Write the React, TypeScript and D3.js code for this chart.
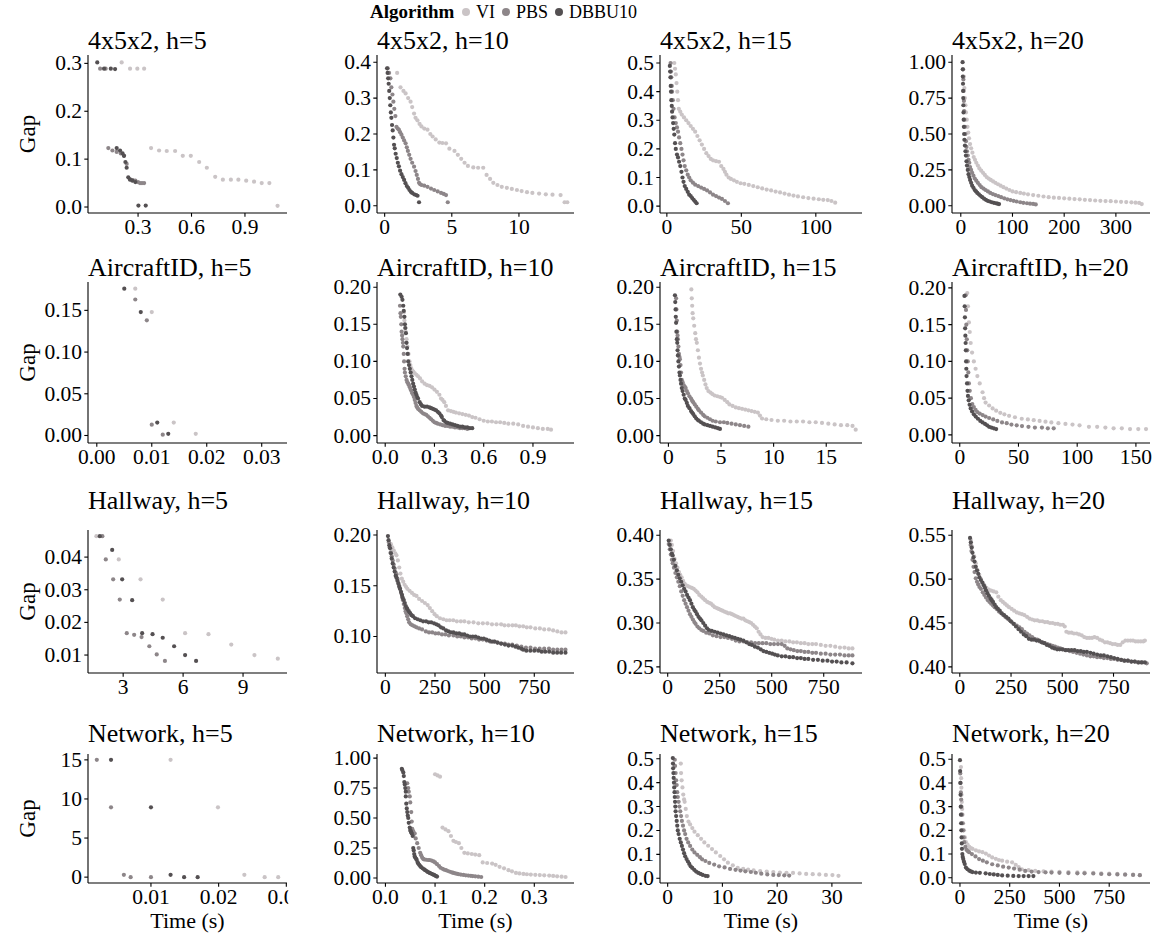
import React from "react";
import * as d3 from "d3";

const ALGORITHMS = ["VI", "PBS", "DBBU10"];
const COLORS = ["#cac4c6", "#8d8689", "#545052"];
const ENVS = ["4x5x2", "AircraftID", "Hallway", "Network"];
const HORIZONS = [5, 10, 15, 20];

type P = [number, number];

// ---------- 4x5x2 ----------
const g_h5_VI: P[] = [[.208,.302],[.255,.289],[.296,.289],[.334,.289],[.373,.123],[.418,.118],[.461,.117],[.508,.117],[.551,.107],[.596,.107],[.643,.094],[.686,.082],[.733,.063],[.776,.057],[.821,.057],[.863,.057],[.907,.055],[.951,.053],[.994,.05],[1.037,.05],[1.083,.0025]];
const g_h5_PBS: P[] = [[.087,.289],[.118,.289],[.133,.123],[.156,.118],[.18,.115],[.203,.112],[.221,.107],[.236,.09],[.255,.058],[.27,.056],[.285,.055],[.3,.052],[.311,.05],[.322,.05],[.334,.05]];
const g_h5_DB: P[] = [[.071,.302],[.109,.289],[.147,.289],[.171,.288],[.18,.123],[.199,.118],[.213,.112],[.221,.107],[.229,.094],[.236,.082],[.245,.062],[.255,.057],[.268,.055],[.285,.052],[.302,.003],[.343,.003]];

const g_h10_VI: P[] = [[.93,.37],[1.18,.33],[1.4,.32],[1.56,.313],[1.75,.3],[1.93,.29],[2.05,.275],[2.19,.257],[2.3,.245],[2.44,.238],[2.6,.228],[2.74,.221],[2.95,.215],[3.19,.212],[3.4,.2],[3.57,.193],[3.8,.185],[4.07,.176],[4.3,.175],[4.57,.174],[4.82,.159],[5.2,.153],[5.45,.142],[5.7,.131],[5.95,.12],[6.2,.111],[6.6,.107],[6.96,.106],[7.34,.106],[7.59,.086],[7.85,.075],[8.09,.064],[8.4,.058],[8.72,.053],[9.1,.05],[9.47,.047],[9.85,.044],[10.2,.041],[10.6,.038],[11,.036],[11.5,.034],[12,.032],[12.5,.031],[13.1,.03],[13.4,.01],[13.6,.01]];
const g_h10_PBS: P[] = [[.23,.383],[.33,.37],[.43,.355],[.5,.33],[.58,.31],[.65,.29],[.72,.27],[.8,.25],[.88,.22],[.97,.215],[1.06,.212],[1.15,.205],[1.25,.198],[1.35,.19],[1.45,.182],[1.56,.174],[1.65,.163],[1.73,.153],[1.83,.142],[1.93,.131],[2.05,.12],[2.19,.109],[2.3,.097],[2.39,.086],[2.48,.075],[2.56,.064],[2.65,.06],[2.75,.058],[2.95,.056],[3.19,.053],[3.45,.048],[3.69,.044],[3.95,.04],[4.2,.036],[4.4,.033],[4.57,.03],[4.7,.01]];
const g_h10_DB: P[] = [[.18,.383],[.22,.37],[.26,.355],[.3,.34],[.34,.32],[.38,.3],[.42,.28],[.46,.26],[.5,.245],[.55,.225],[.6,.21],[.65,.19],[.7,.17],[.75,.16],[.82,.145],[.9,.133],[.98,.12],[1.06,.11],[1.15,.098],[1.25,.088],[1.35,.08],[1.45,.072],[1.55,.063],[1.65,.055],[1.75,.05],[1.85,.044],[1.95,.039],[2.05,.036],[2.2,.032],[2.35,.03],[2.45,.028],[2.56,.01]];

const g_h15_VI: P[] = [[5,.5],[5.5,.48],[6,.46],[6.5,.43],[7,.4],[7.5,.37],[8,.34],[9,.33],[10,.32],[11.5,.31],[13,.3],[14.5,.29],[16,.28],[17.5,.27],[19,.26],[20.5,.245],[22,.23],[23.5,.215],[25,.2],[26.5,.185],[28,.175],[29.5,.165],[31,.16],[33,.157],[35,.155],[36.5,.14],[38,.13],[39,.12],[40,.11],[41.5,.1],[43,.095],[45,.09],[47,.085],[49.5,.08],[52,.078],[55,.074],[58,.07],[61,.066],[64,.062],[67,.058],[70,.055],[73,.051],[76,.048],[79,.044],[82,.04],[85,.037],[88,.034],[91.5,.031],[95,.028],[98.5,.026],[102,.024],[105,.022],[108,.021],[110.5,.018],[113,.012]];
const g_h15_PBS: P[] = [[2.5,.5],[2.8,.47],[3,.45],[3.3,.42],[3.5,.4],[4,.37],[4.5,.34],[5.2,.31],[6,.29],[6.8,.275],[7.5,.26],[8.2,.24],[9,.22],[9.8,.2],[10.5,.18],[11.2,.16],[12,.14],[13,.125],[14,.11],[15,.1],[16,.09],[17.5,.082],[19,.075],[21,.07],[23,.065],[25,.06],[27,.055],[29,.048],[31,.04],[33,.035],[35,.03],[37,.025],[39,.018],[41,.01]];
const g_h15_DB: P[] = [[2,.49],[2.2,.47],[2.4,.45],[2.6,.42],[2.8,.4],[3,.37],[3.3,.35],[3.5,.33],[3.8,.31],[4.2,.29],[4.6,.27],[5,.25],[5.5,.22],[6,.2],[6.8,.18],[7.5,.17],[8.2,.155],[9,.14],[9.8,.12],[10.5,.1],[11.2,.085],[12,.07],[13,.06],[14,.05],[15,.04],[16,.035],[17,.028],[18,.022],[19,.016],[20,.01]];

const g_h20_VI: P[] = [[6,.9],[7,.82],[8,.75],[9,.7],[10,.65],[11.5,.6],[13,.55],[14.5,.51],[16,.47],[18,.43],[20,.4],[22.5,.37],[25,.34],[27.5,.32],[30,.3],[33,.28],[36,.26],[39.5,.245],[43,.23],[46.5,.215],[50,.2],[54,.19],[58,.18],[62.5,.17],[67,.16],[72,.15],[77,.14],[82.5,.13],[88,.12],[94,.11],[100,.1],[107,.095],[115,.09],[122,.085],[130,.08],[140,.075],[150,.07],[160,.065],[170,.06],[180,.057],[190,.055],[200,.052],[210,.05],[220,.047],[230,.045],[240,.042],[250,.04],[260,.037],[270,.035],[280,.033],[290,.032],[300,.03],[310,.028],[320,.026],[330,.024],[338,.022],[345,.02],[350,.012]];
const g_h20_PBS: P[] = [[4.5,.95],[5,.88],[5.5,.8],[6,.73],[6.5,.66],[7,.6],[8,.55],[9,.5],[10,.45],[11,.41],[12,.38],[13.5,.35],[15,.32],[16.5,.3],[18,.27],[20,.25],[22,.23],[24.5,.21],[27,.19],[30,.175],[33,.16],[36.5,.145],[40,.13],[44,.12],[48,.11],[52.5,.1],[57,.09],[62,.082],[67,.075],[72.5,.068],[78,.06],[84,.052],[90,.045],[96,.04],[102,.035],[108,.03],[115,.025],[121,.021],[128,.018],[134,.015],[140,.013],[145,.01]];
const g_h20_DB: P[] = [[3.5,1.0],[3.8,.95],[4,.9],[4.3,.85],[4.5,.8],[4.8,.75],[5,.7],[5.3,.65],[5.6,.6],[6,.55],[6.5,.5],[7,.46],[8,.42],[9,.38],[10,.35],[11,.31],[12,.28],[13.5,.25],[15,.22],[16.5,.2],[18,.18],[20,.16],[22,.14],[24.5,.125],[27,.11],[29.5,.1],[32,.09],[35,.08],[38,.07],[41.5,.06],[45,.05],[48.5,.042],[52,.035],[56,.03],[60,.025],[64,.021],[68,.018],[71,.015],[74,.012]];

// ---------- AircraftID ----------
const a_h5_VI: P[] = [[.007,.176],[.01,.148],[.014,.0155],[.018,.002]];
const a_h5_PBS: P[] = [[.007,.163],[.0091,.138],[.01,.013],[.012,.001]];
const a_h5_DB: P[] = [[.005,.176],[.008,.148],[.011,.0155],[.013,.002]];

const a_h10_VI: P[] = [[.113,.166],[.117,.155],[.12,.145],[.124,.14],[.13,.13],[.135,.12],[.142,.11],[.148,.1],[.153,.095],[.158,.091],[.165,.088],[.172,.086],[.18,.084],[.19,.082],[.2,.08],[.212,.077],[.225,.073],[.24,.07],[.255,.068],[.27,.067],[.285,.065],[.3,.062],[.315,.059],[.33,.055],[.34,.05],[.349,.048],[.36,.045],[.37,.04],[.383,.034],[.4,.033],[.415,.032],[.43,.031],[.45,.03],[.47,.029],[.49,.028],[.51,.027],[.53,.025],[.55,.024],[.575,.022],[.6,.02],[.625,.019],[.65,.019],[.675,.018],[.7,.018],[.725,.017],[.75,.016],[.78,.016],[.81,.015],[.84,.013],[.87,.012],[.9,.011],[.93,.01],[.96,.009],[.99,.009],[1.01,.008]];
const a_h10_PBS: P[] = [[.09,.175],[.093,.165],[.095,.16],[.098,.15],[.1,.14],[.103,.135],[.105,.13],[.108,.125],[.11,.12],[.113,.11],[.115,.1],[.118,.09],[.12,.085],[.125,.08],[.13,.075],[.135,.072],[.14,.07],[.145,.068],[.15,.065],[.155,.062],[.16,.06],[.165,.057],[.17,.055],[.175,.052],[.18,.048],[.185,.044],[.19,.04],[.195,.038],[.2,.036],[.21,.034],[.22,.032],[.23,.03],[.24,.029],[.25,.028],[.26,.026],[.27,.024],[.28,.022],[.29,.02],[.3,.018],[.31,.017],[.32,.016],[.335,.015],[.35,.014],[.365,.013],[.38,.013],[.395,.012],[.41,.012],[.425,.011],[.44,.011],[.455,.01],[.47,.01],[.485,.01],[.5,.009]];
const a_h10_DB: P[] = [[.092,.19],[.1,.187],[.105,.183],[.11,.175],[.113,.168],[.117,.16],[.12,.15],[.123,.145],[.126,.138],[.13,.125],[.133,.118],[.137,.11],[.14,.1],[.145,.095],[.15,.09],[.155,.085],[.16,.08],[.165,.075],[.17,.07],[.175,.066],[.18,.062],[.185,.058],[.19,.055],[.195,.052],[.2,.05],[.21,.045],[.218,.042],[.225,.04],[.24,.039],[.255,.039],[.27,.038],[.28,.037],[.29,.036],[.3,.035],[.31,.034],[.32,.032],[.33,.03],[.34,.027],[.345,.025],[.355,.021],[.36,.02],[.37,.018],[.38,.017],[.395,.016],[.41,.015],[.425,.014],[.44,.013],[.455,.012],[.47,.012],[.485,.011],[.5,.011],[.515,.01],[.53,.01]];

const a_h15_VI: P[] = [[2.18,.197],[2.22,.185],[2.26,.175],[2.3,.165],[2.36,.158],[2.45,.148],[2.55,.138],[2.62,.13],[2.7,.125],[2.8,.115],[2.9,.105],[3,.097],[3.1,.09],[3.2,.085],[3.27,.081],[3.4,.075],[3.52,.069],[3.64,.064],[3.8,.06],[4,.058],[4.18,.056],[4.4,.054],[4.65,.053],[4.9,.052],[5.09,.051],[5.35,.048],[5.6,.045],[5.8,.042],[6.1,.04],[6.4,.038],[6.7,.037],[7,.036],[7.3,.035],[7.6,.034],[7.9,.033],[8.2,.032],[8.5,.031],[8.7,.027],[8.9,.023],[9.3,.022],[9.8,.021],[10.4,.02],[11,.02],[11.6,.019],[12.2,.019],[12.8,.019],[13.4,.018],[14,.018],[14.6,.017],[15.2,.016],[15.8,.015],[16.4,.014],[17,.014],[17.5,.013],[17.8,.008]];
const a_h15_PBS: P[] = [[.73,.185],[.76,.17],[.8,.155],[.84,.14],[.87,.135],[.9,.13],[.95,.12],[1,.11],[1.05,.106],[1.09,.103],[1.15,.095],[1.2,.085],[1.27,.075],[1.35,.072],[1.45,.068],[1.55,.066],[1.64,.064],[1.75,.06],[1.85,.057],[2,.053],[2.15,.05],[2.25,.047],[2.36,.045],[2.5,.042],[2.65,.039],[2.8,.036],[2.9,.034],[3.1,.031],[3.3,.028],[3.45,.026],[3.7,.024],[3.95,.022],[4.2,.02],[4.5,.019],[4.9,.018],[5.27,.018],[5.6,.017],[6,.016],[6.4,.015],[6.8,.014],[7.2,.013],[7.6,.012]];
const a_h15_DB: P[] = [[.62,.189],[.65,.18],[.68,.17],[.7,.16],[.73,.152],[.76,.14],[.8,.13],[.84,.125],[.87,.115],[.9,.108],[.95,.1],[1,.093],[1.05,.085],[1.09,.081],[1.15,.075],[1.2,.07],[1.27,.064],[1.35,.06],[1.45,.055],[1.55,.05],[1.64,.048],[1.75,.044],[1.85,.04],[2,.037],[2.15,.033],[2.25,.031],[2.36,.029],[2.5,.026],[2.65,.023],[2.8,.021],[2.9,.02],[3.1,.018],[3.3,.016],[3.45,.015],[3.7,.014],[3.95,.013],[4.2,.012],[4.45,.011],[4.7,.01],[4.9,.009]];

const a_h20_VI: P[] = [[6.4,.193],[7,.175],[7.8,.153],[8.5,.14],[9.3,.125],[10.5,.112],[12,.1],[13.5,.09],[15,.08],[17,.07],[19.4,.058],[20.7,.05],[22,.044],[25,.04],[28,.036],[31,.033],[34.5,.03],[38,.028],[42,.026],[47,.024],[52.8,.022],[58,.021],[63,.02],[68,.019],[73,.018],[78,.017],[84,.016],[90,.015],[96,.014],[102,.013],[110,.011],[117,.011],[124,.01],[131,.009],[138,.009],[145,.008],[152,.008],[158.6,.008]];
const a_h20_PBS: P[] = [[5,.19],[5.3,.17],[5.6,.15],[6,.13],[6.4,.115],[6.8,.1],[7.3,.085],[7.8,.07],[8.5,.06],[9.5,.05],[10.7,.042],[12,.038],[13.5,.034],[15,.031],[17,.029],[19.5,.027],[22,.025],[25,.023],[28.5,.021],[32,.019],[36,.017],[40,.016],[44,.014],[48.5,.013],[53,.012],[58.5,.011],[64,.01],[70,.01],[75,.009],[80,.009]];
const a_h20_DB: P[] = [[4,.189],[4.2,.175],[4.4,.16],[4.6,.145],[4.8,.135],[5,.125],[5.2,.115],[5.4,.1],[5.6,.09],[5.8,.08],[6.2,.07],[6.6,.06],[7,.053],[7.6,.047],[8.4,.041],[9.3,.036],[10.5,.032],[12,.028],[13.6,.025],[15.5,.022],[17.5,.019],[19.4,.017],[21.5,.015],[23.3,.013],[25,.011],[27,.01],[29,.009],[31,.008]];

// ---------- Hallway ----------
const h_h5_VI: P[] = [[1.66,.0464],[2.78,.0393],[3.87,.0332],[4.98,.027],[6.1,.0167],[7.27,.0164],[8.41,.0132],[9.57,.01],[10.74,.0089]];
const h_h5_PBS: P[] = [[1.96,.0464],[2.13,.0393],[2.5,.0332],[2.83,.027],[3.18,.0167],[3.55,.0162],[3.92,.0155],[4.31,.0127],[4.68,.0102],[5.09,.0082]];
const h_h5_DB: P[] = [[1.83,.0464],[2.45,.0422],[2.95,.0332],[3.45,.0268],[3.95,.0167],[4.47,.0164],[4.98,.0153],[5.55,.0127],[6.1,.01],[6.65,.0082]];

const h_h10_VI: P[] = [[28,.191],[35,.188],[42,.185],[50,.182],[56,.18],[63,.175],[70,.168],[76,.162],[83,.157],[90,.154],[97,.151],[104,.149],[111,.147],[122,.145],[134,.143],[145,.141],[157,.14],[170,.137],[185,.135],[199,.133],[213,.131],[224,.128],[236,.125],[248,.122],[259,.12],[275,.118],[292,.117],[308,.116],[324,.116],[342,.116],[360,.115],[380,.115],[398,.115],[420,.114],[444,.114],[468,.113],[491,.113],[514,.113],[537,.112],[560,.112],[583,.112],[600,.111],[620,.111],[640,.111],[657,.111],[675,.11],[694,.11],[712,.109],[731,.109],[755,.108],[778,.108],[800,.107],[824,.107],[845,.106],[866,.105],[887,.104],[907,.104]];
const h_h10_PBS: P[] = [[18,.193],[22,.188],[27,.183],[32,.179],[37,.175],[42,.171],[47,.167],[52,.163],[56,.161],[61,.157],[65,.153],[70,.15],[74,.147],[79,.143],[84,.139],[88,.136],[93,.132],[98,.128],[102,.125],[106,.123],[110,.12],[115,.117],[120,.114],[128,.112],[137,.111],[147,.11],[157,.109],[170,.108],[185,.107],[204,.105],[220,.104],[236,.104],[252,.103],[268,.103],[285,.102],[302,.102],[320,.101],[343,.101],[362,.1],[380,.1],[398,.099],[417,.099],[435,.098],[454,.098],[472,.097],[491,.097],[510,.096],[528,.095],[546,.095],[565,.094],[583,.093],[602,.093],[620,.092],[639,.092],[662,.091],[685,.09],[708,.089],[731,.089],[754,.088],[777,.088],[800,.088],[824,.088],[845,.087],[866,.087],[887,.087],[907,.087]];
const h_h10_DB: P[] = [[13,.199],[16,.195],[20,.19],[24,.187],[28,.182],[32,.177],[37,.172],[42,.168],[47,.164],[52,.16],[56,.158],[61,.155],[66,.152],[70,.149],[74,.147],[79,.144],[84,.141],[88,.138],[93,.136],[98,.133],[103,.13],[108,.128],[111,.127],[118,.125],[125,.123],[132,.121],[139,.12],[150,.118],[163,.117],[176,.116],[190,.115],[205,.115],[218,.114],[231,.114],[245,.113],[257,.112],[268,.111],[280,.109],[292,.108],[306,.106],[318,.105],[330,.104],[343,.104],[357,.103],[372,.103],[385,.102],[398,.102],[412,.101],[426,.1],[440,.1],[454,.1],[468,.099],[482,.098],[496,.098],[509,.097],[523,.096],[537,.095],[551,.095],[565,.094],[583,.093],[602,.092],[620,.091],[639,.091],[655,.09],[670,.089],[685,.088],[694,.087],[710,.086],[730,.086],[750,.086],[770,.086],[787,.085],[805,.085],[825,.085],[845,.084],[865,.084],[885,.084],[907,.084]];

const h_h15_VI: P[] = [[15,.394],[20,.389],[26,.382],[33,.373],[40,.368],[47,.363],[54,.358],[60,.355],[67,.352],[74,.348],[81,.345],[88,.343],[97,.342],[106,.341],[116,.34],[125,.339],[134,.337],[143,.335],[152,.332],[162,.33],[171,.328],[180,.326],[190,.324],[199,.323],[208,.322],[217,.32],[226,.318],[236,.317],[245,.316],[254,.315],[263,.314],[272,.313],[282,.312],[291,.311],[300,.311],[309,.31],[318,.309],[327,.308],[336,.307],[345,.306],[355,.305],[364,.305],[373,.303],[383,.302],[392,.301],[401,.3],[410,.298],[419,.296],[428,.294],[437,.29],[446,.287],[456,.284],[470,.283],[484,.283],[498,.282],[512,.281],[530,.28],[548,.28],[566,.279],[585,.279],[603,.278],[621,.278],[640,.277],[658,.277],[676,.276],[695,.276],[713,.276],[736,.275],[759,.274],[782,.274],[805,.273],[828,.272],[850,.272],[870,.271],[888,.271]];
const h_h15_PBS: P[] = [[5,.39],[10,.384],[15,.378],[20,.372],[24,.368],[30,.363],[37,.357],[44,.352],[51,.347],[58,.342],[65,.336],[72,.331],[79,.326],[86,.322],[93,.318],[100,.314],[107,.31],[114,.307],[121,.304],[128,.301],[134,.299],[143,.296],[152,.294],[162,.292],[171,.291],[185,.289],[200,.288],[217,.286],[235,.285],[254,.284],[272,.284],[290,.283],[309,.282],[327,.28],[345,.279],[364,.279],[383,.278],[401,.278],[420,.277],[438,.277],[456,.277],[474,.277],[493,.276],[511,.276],[530,.276],[548,.276],[562,.274],[575,.271],[590,.27],[606,.269],[623,.268],[640,.268],[658,.267],[676,.267],[695,.266],[713,.266],[736,.265],[759,.265],[782,.264],[805,.264],[828,.264],[850,.263],[870,.263],[888,.263]];
const h_h15_DB: P[] = [[5,.394],[10,.389],[15,.384],[20,.379],[24,.377],[30,.372],[37,.365],[44,.36],[51,.355],[58,.351],[65,.347],[72,.343],[79,.339],[86,.336],[93,.332],[100,.329],[107,.326],[114,.322],[121,.318],[128,.315],[134,.313],[141,.31],[148,.307],[155,.305],[162,.303],[171,.3],[180,.297],[189,.294],[198,.292],[212,.291],[226,.29],[240,.289],[254,.288],[268,.287],[282,.286],[296,.285],[309,.284],[323,.283],[337,.282],[350,.281],[364,.28],[378,.278],[392,.276],[405,.275],[419,.273],[433,.272],[447,.27],[460,.268],[474,.267],[488,.266],[502,.265],[515,.264],[529,.263],[548,.262],[566,.262],[585,.261],[603,.261],[622,.26],[640,.26],[658,.259],[676,.259],[699,.258],[722,.258],[745,.257],[768,.257],[790,.256],[812,.256],[835,.255],[860,.255],[888,.254]];

const h_h20_VI: P[] = [[53,.545],[60,.537],[70,.526],[78,.518],[87,.51],[95,.505],[103,.5],[112,.496],[120,.493],[130,.49],[142,.488],[153,.487],[165,.486],[178,.485],[188,.48],[200,.476],[210,.474],[220,.472],[230,.47],[240,.468],[253,.466],[265,.464],[278,.462],[290,.461],[303,.46],[315,.459],[328,.457],[340,.455],[353,.454],[365,.453],[378,.453],[390,.452],[403,.452],[415,.451],[428,.451],[440,.45],[453,.45],[465,.449],[478,.449],[490,.448],[503,.448],[512,.446],[520,.44],[532,.439],[545,.439],[557,.438],[570,.438],[582,.437],[595,.436],[607,.434],[620,.433],[632,.433],[645,.433],[657,.434],[670,.433],[683,.431],[695,.43],[708,.428],[720,.428],[733,.427],[745,.426],[758,.426],[770,.425],[783,.425],[795,.428],[808,.43],[820,.43],[833,.43],[845,.43],[858,.429],[870,.429],[883,.429],[895,.429],[903,.43]];
const h_h20_PBS: P[] = [[53,.539],[57,.532],[62,.522],[67,.514],[72,.508],[78,.501],[84,.497],[90,.494],[96,.491],[103,.489],[112,.485],[120,.482],[128,.479],[137,.476],[145,.474],[153,.472],[162,.47],[170,.468],[180,.466],[191,.463],[202,.461],[212,.459],[222,.457],[232,.455],[243,.453],[253,.451],[265,.449],[278,.447],[291,.445],[303,.443],[316,.44],[328,.438],[340,.436],[353,.434],[365,.432],[378,.431],[390,.429],[403,.428],[415,.427],[428,.426],[440,.425],[453,.424],[465,.423],[478,.422],[490,.421],[503,.42],[520,.419],[537,.418],[553,.417],[570,.416],[587,.415],[603,.414],[620,.413],[637,.412],[653,.412],[670,.411],[687,.411],[703,.41],[720,.41],[737,.409],[753,.409],[770,.408],[787,.408],[803,.407],[820,.407],[837,.406],[855,.406],[873,.405],[890,.405],[912,.404]];
const h_h20_DB: P[] = [[50,.547],[54,.542],[58,.536],[62,.53],[67,.525],[72,.52],[78,.514],[84,.51],[90,.506],[96,.502],[103,.499],[110,.496],[117,.493],[123,.49],[128,.487],[135,.484],[142,.481],[150,.478],[156,.476],[162,.474],[170,.471],[178,.468],[186,.466],[195,.464],[205,.461],[216,.459],[226,.457],[237,.455],[249,.452],[262,.449],[274,.446],[287,.443],[299,.44],[312,.437],[324,.435],[337,.432],[350,.431],[362,.431],[375,.43],[387,.43],[400,.428],[412,.427],[425,.425],[437,.424],[450,.422],[462,.421],[475,.42],[487,.42],[500,.42],[515,.419],[530,.419],[545,.419],[560,.419],[575,.418],[590,.418],[605,.417],[620,.417],[637,.416],[653,.415],[670,.414],[687,.413],[703,.413],[720,.412],[737,.411],[753,.41],[770,.409],[787,.408],[803,.407],[820,.407],[837,.406],[853,.406],[870,.405],[886,.405],[903,.405]];

// ---------- Network ----------
const n_h5_VI: P[] = [[.0129,15],[.0199,8.93],[.0238,.3],[.0268,0],[.0288,0]];
const n_h5_PBS: P[] = [[.002,15],[.0041,8.93],[.006,.3],[.007,0],[.01,0]];
const n_h5_DB: P[] = [[.0041,15],[.01,8.93],[.0129,.3],[.0149,0],[.0169,0]];

const n_h10_VI: P[] = [[.1,.865],[.105,.855],[.11,.845],[.115,.42],[.121,.405],[.127,.39],[.132,.35],[.137,.31],[.142,.3],[.148,.29],[.153,.25],[.159,.21],[.166,.205],[.174,.2],[.181,.195],[.189,.19],[.196,.13],[.205,.125],[.215,.12],[.222,.11],[.23,.093],[.239,.08],[.248,.065],[.255,.055],[.263,.042],[.27,.038],[.278,.034],[.285,.031],[.293,.028],[.302,.026],[.311,.024],[.32,.022],[.33,.02],[.338,.017],[.346,.014],[.355,.011],[.363,.008]];
const n_h10_PBS: P[] = [[.044,.79],[.046,.75],[.047,.72],[.049,.68],[.05,.63],[.052,.55],[.053,.47],[.054,.41],[.056,.39],[.059,.37],[.061,.33],[.064,.29],[.067,.25],[.07,.21],[.072,.19],[.074,.17],[.076,.16],[.078,.155],[.082,.152],[.086,.15],[.089,.15],[.093,.145],[.097,.138],[.1,.13],[.104,.115],[.108,.1],[.111,.085],[.115,.077],[.118,.07],[.122,.065],[.126,.058],[.13,.052],[.134,.046],[.137,.042],[.141,.038],[.145,.034],[.148,.031],[.152,.028],[.157,.025],[.162,.022],[.167,.02],[.172,.018],[.176,.016],[.181,.014],[.187,.011],[.193,.008]];
const n_h10_DB: P[] = [[.033,.91],[.034,.9],[.036,.88],[.037,.85],[.038,.8],[.039,.78],[.04,.75],[.041,.72],[.041,.68],[.042,.62],[.043,.58],[.044,.55],[.045,.52],[.046,.5],[.047,.46],[.049,.42],[.05,.4],[.051,.39],[.052,.38],[.053,.37],[.055,.35],[.056,.25],[.057,.23],[.058,.2],[.059,.18],[.06,.17],[.062,.16],[.063,.15],[.065,.13],[.066,.12],[.068,.11],[.07,.1],[.072,.09],[.075,.08],[.078,.072],[.08,.065],[.083,.058],[.085,.05],[.088,.045],[.09,.04],[.093,.035],[.095,.03],[.098,.025],[.1,.02],[.102,.016],[.104,.012]];

const n_h15_VI: P[] = [[2.4,.48],[2.45,.44],[2.55,.41],[2.7,.38],[2.85,.35],[3,.33],[3.1,.32],[3.3,.29],[3.5,.26],[3.8,.237],[4.1,.225],[4.5,.21],[4.9,.195],[5.5,.18],[6.1,.165],[6.7,.15],[7.4,.136],[8.1,.122],[8.8,.108],[9.6,.093],[10.3,.079],[11,.065],[11.9,.054],[12.8,.043],[13.8,.039],[14.7,.036],[15.7,.033],[16.9,.03],[18.1,.028],[19.3,.026],[20.5,.024],[21.7,.023],[22.9,.022],[24.1,.02],[25.3,.018],[26.5,.017],[27.7,.016],[28.9,.014],[30.1,.013],[31.2,.01]];
const n_h15_PBS: P[] = [[1.3,.496],[1.35,.47],[1.45,.44],[1.55,.41],[1.65,.39],[1.75,.36],[1.85,.34],[2,.32],[2.15,.3],[2.3,.28],[2.45,.26],[2.6,.24],[2.8,.22],[3,.2],[3.2,.185],[3.45,.165],[3.75,.15],[4.1,.135],[4.5,.12],[4.9,.108],[5.4,.098],[5.9,.088],[6.3,.079],[6.9,.072],[7.6,.064],[8.5,.057],[9.4,.05],[10.4,.045],[11.4,.039],[12.4,.035],[13.3,.032],[14.2,.029],[15.2,.026],[16.1,.023],[17.1,.019],[18.2,.016],[19.3,.014],[20.3,.013],[21.3,.012],[22.2,.011]];
const n_h15_DB: P[] = [[.94,.503],[.97,.48],[1,.46],[1.05,.44],[1.1,.42],[1.15,.4],[1.2,.38],[1.25,.36],[1.3,.34],[1.35,.32],[1.4,.3],[1.45,.28],[1.55,.26],[1.65,.24],[1.75,.22],[1.85,.2],[2,.185],[2.2,.165],[2.4,.15],[2.6,.135],[2.8,.12],[3,.105],[3.2,.092],[3.45,.08],[3.7,.07],[3.95,.06],[4.2,.05],[4.5,.043],[4.85,.035],[5.2,.028],[5.6,.022],[6,.018],[6.4,.014],[6.9,.01],[7.3,.009]];

const n_h20_VI: P[] = [[5,.467],[6,.42],[7,.38],[8,.35],[9,.32],[11,.29],[13,.266],[16,.23],[20,.2],[25,.17],[30,.15],[38,.14],[47,.13],[55,.125],[63,.122],[80,.116],[96,.111],[113,.108],[130,.102],[146,.094],[162,.086],[180,.08],[196,.075],[212,.072],[237,.068],[262,.065],[280,.055],[295,.045],[311,.036],[345,.032],[378,.029],[420,.027],[460,.026],[500,.025],[545,.024],[590,.023],[626,.022],[670,.021],[710,.019],[750,.018],[791,.017],[830,.015],[870,.013],[904,.011]];
const n_h20_PBS: P[] = [[1.7,.44],[3,.4],[4.5,.36],[6,.33],[7.5,.3],[10,.266],[13,.23],[16,.2],[19,.17],[21.5,.15],[27,.13],[33,.118],[40,.112],[46,.108],[60,.1],[78,.09],[96,.079],[115,.072],[135,.065],[162,.057],[190,.052],[217,.047],[245,.043],[272,.039],[300,.034],[328,.029],[360,.026],[395,.024],[430,.023],[460,.022],[500,.021],[545,.02],[590,.019],[626,.019],[670,.018],[710,.016],[750,.015],[791,.014],[830,.013],[870,.012],[904,.011]];
const n_h20_DB: P[] = [[0,.496],[1,.45],[2,.4],[3,.35],[4,.3],[5,.266],[6,.23],[7,.2],[8,.17],[9,.145],[10,.122],[12,.1],[14,.088],[16.5,.079],[20,.068],[24,.058],[30,.043],[38,.036],[47,.03],[55,.027],[63,.024],[80,.022],[100,.021],[129,.019],[150,.016],[170,.014],[190,.012],[212,.01],[240,.009],[268,.008],[295,.007],[320,.007],[345,.007],[369,.007]];

// panels in row-major order: [VI, PBS, DBBU10]
const PANEL_SERIES: P[][][] = [
  [g_h5_VI, g_h5_PBS, g_h5_DB], [g_h10_VI, g_h10_PBS, g_h10_DB], [g_h15_VI, g_h15_PBS, g_h15_DB], [g_h20_VI, g_h20_PBS, g_h20_DB],
  [a_h5_VI, a_h5_PBS, a_h5_DB], [a_h10_VI, a_h10_PBS, a_h10_DB], [a_h15_VI, a_h15_PBS, a_h15_DB], [a_h20_VI, a_h20_PBS, a_h20_DB],
  [h_h5_VI, h_h5_PBS, h_h5_DB], [h_h10_VI, h_h10_PBS, h_h10_DB], [h_h15_VI, h_h15_PBS, h_h15_DB], [h_h20_VI, h_h20_PBS, h_h20_DB],
  [n_h5_VI, n_h5_PBS, n_h5_DB], [n_h10_VI, n_h10_PBS, n_h10_DB], [n_h15_VI, n_h15_PBS, n_h15_DB], [n_h20_VI, n_h20_PBS, n_h20_DB],
];

const X_DOMAINS: [number, number][] = [
  [0.019, 1.136], [-0.57, 14.1], [-4.6, 131], [-17, 366],
  [-0.0016, 0.0346], [-0.05, 1.15], [-0.8, 18.4], [-6.6, 162],
  [1.24, 11.2], [-42, 950], [-37, 934], [-38, 928],
  [0.0007, 0.0301], [-0.017, 0.38], [-1.4, 35.5], [-40, 955],
];
const Y_DOMAINS: [number, number][] = [
  [-0.0125, 0.3175], [-0.02, 0.42], [-0.024, 0.528], [-0.05, 1.05],
  [-0.009, 0.184], [-0.01, 0.207], [-0.01, 0.207], [-0.011, 0.208],
  [0.0045, 0.0483], [0.064, 0.205], [0.243, 0.406], [0.393, 0.556],
  [-0.75, 15.75], [-0.042, 1.034], [-0.02, 0.52], [-0.022, 0.522],
];
const X_TICKS: number[][] = [
  [0.3, 0.6, 0.9], [0, 5, 10], [0, 50, 100], [0, 100, 200, 300],
  [0, 0.01, 0.02, 0.03], [0, 0.3, 0.6, 0.9], [0, 5, 10, 15], [0, 50, 100, 150],
  [3, 6, 9], [0, 250, 500, 750], [0, 250, 500, 750], [0, 250, 500, 750],
  [0.01, 0.02, 0.03], [0, 0.1, 0.2, 0.3], [0, 10, 20, 30], [0, 250, 500, 750],
];
const Y_TICKS: number[][] = [
  [0, 0.1, 0.2, 0.3], [0, 0.1, 0.2, 0.3, 0.4], [0, 0.1, 0.2, 0.3, 0.4, 0.5], [0, 0.25, 0.5, 0.75, 1],
  [0, 0.05, 0.1, 0.15], [0, 0.05, 0.1, 0.15, 0.2], [0, 0.05, 0.1, 0.15, 0.2], [0, 0.05, 0.1, 0.15, 0.2],
  [0.01, 0.02, 0.03, 0.04], [0.1, 0.15, 0.2], [0.25, 0.3, 0.35, 0.4], [0.4, 0.45, 0.5, 0.55],
  [0, 5, 10, 15], [0, 0.25, 0.5, 0.75, 1], [0, 0.1, 0.2, 0.3, 0.4, 0.5], [0, 0.1, 0.2, 0.3, 0.4, 0.5],
];
const X_FMT = [".1f", "d", "d", "d", ".2f", ".1f", "d", "d", "d", "d", "d", "d", ".2f", ".1f", "d", "d"];
const Y_FMT = [".1f", ".1f", ".1f", ".2f", ".2f", ".2f", ".2f", ".2f", ".2f", ".2f", ".2f", ".2f", "d", ".2f", ".1f", ".1f"];

// layout
const W = 1153, H = 936;
const COL_L = [88, 377, 660, 952];
const COL_R = [287, 574, 862, 1150];
const TITLE_Y = [49, 276, 509, 742];
const ROW_T = [55, 282, 530, 754];
const ROW_B = [213, 443, 673, 883];
const CELL_W = W / 4;
const FONT = "'Liberation Serif', 'Times New Roman', 'DejaVu Serif', serif";

function Panel({ idx }: { idx: number }) {
  const r = Math.floor(idx / 4), c = idx % 4;
  const L = COL_L[c], R = COL_R[c], T = ROW_T[r], B = ROW_B[r];
  const x = d3.scaleLinear().domain(X_DOMAINS[idx]).range([L, R]);
  const y = d3.scaleLinear().domain(Y_DOMAINS[idx]).range([B, T]);
  const fx = d3.format(X_FMT[idx]);
  const fy = d3.format(Y_FMT[idx]);
  const series = PANEL_SERIES[idx];
  return (
    <g clipPath={`url(#cell${c})`}>
      <text x={L} y={TITLE_Y[r]} fontSize={26} fill="#000">{`${ENVS[r]}, h=${HORIZONS[c]}`}</text>
      {series.map((pts, si) => (
        <g key={si} fill={COLORS[si]}>
          {pts.map((p, pi) => (
            <circle key={pi} cx={x(p[0])} cy={y(p[1])} r={2.1} />
          ))}
        </g>
      ))}
      <line x1={L} x2={R} y1={B} y2={B} stroke="#000" strokeWidth={1.1} />
      <line x1={L} x2={L} y1={T} y2={B} stroke="#000" strokeWidth={1.1} />
      {Y_TICKS[idx].map((v, i) => (
        <g key={"y" + i}>
          <line x1={L - 3.7} x2={L} y1={y(v)} y2={y(v)} stroke="#000" strokeWidth={1.1} />
          <text x={L - 6} y={y(v) + 7} fontSize={21.5} textAnchor="end" fill="#000">{fy(v)}</text>
        </g>
      ))}
      {X_TICKS[idx].map((v, i) => (
        <g key={"x" + i}>
          <line x1={x(v)} x2={x(v)} y1={B} y2={B + 3.7} stroke="#000" strokeWidth={1.1} />
          <text x={x(v)} y={B + 21} fontSize={21.5} textAnchor="middle" fill="#000">{fx(v)}</text>
        </g>
      ))}
    </g>
  );
}

export default function App() {
  const legendX = [466, 506, 559];
  const legendTextX = [476, 516, 569];
  return (
    <svg width={W} height={H} style={{ position: "absolute", left: 0, top: 0, background: "#fff" }} fontFamily={FONT}>
      <defs>
        {[0, 1, 2, 3].map((c) => (
          <clipPath id={`cell${c}`} key={c}>
            <rect x={c * CELL_W} y={0} width={CELL_W} height={H} />
          </clipPath>
        ))}
      </defs>
      <rect width={W} height={H} fill="#fff" />
      {/* legend */}
      <text x={370} y={18} fontSize={19} fontWeight="bold">Algorithm</text>
      {ALGORITHMS.map((a, i) => (
        <g key={a}>
          <circle cx={legendX[i]} cy={12} r={4} fill={COLORS[i]} />
          <text x={legendTextX[i]} y={18} fontSize={18}>{a}</text>
        </g>
      ))}
      {d3.range(16).map((i) => <Panel key={i} idx={i} />)}
      {ROW_T.map((t, r) => (
        <text key={"gap" + r} transform={`translate(35,${(t + ROW_B[r]) / 2}) rotate(-90)`} fontSize={23} textAnchor="middle">Gap</text>
      ))}
      {COL_L.map((l, c) => (
        <text key={"time" + c} x={(l + COL_R[c]) / 2} y={928} fontSize={22} textAnchor="middle">Time (s)</text>
      ))}
    </svg>
  );
}
